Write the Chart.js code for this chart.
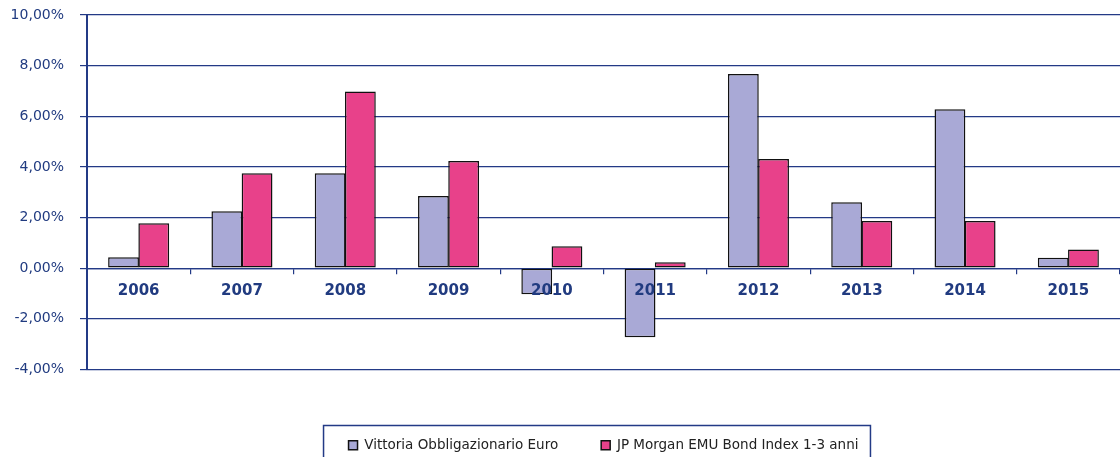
<!DOCTYPE html>
<html>
<head>
<meta charset="utf-8">
<script src="https://cdn.jsdelivr.net/npm/chart.js@4.4.1/dist/chart.umd.min.js"></script>
<style>
html,body{margin:0;padding:0;background:#fff;overflow:hidden;width:1120px;height:457px;}
#wrap{position:relative;width:1120px;height:462px;}
</style>
</head>
<body>
<div id="wrap"><canvas id="c"></canvas></div>
<script>
const categories = ['2006','2007','2008','2009','2010','2011','2012','2013','2014','2015'];
const vittoria = [0.43, 2.25, 3.75, 2.85, -1.03, -2.73, 7.67, 2.61, 6.28, 0.41];
const jpMorgan = [1.78, 3.75, 6.98, 4.23, 0.87, 0.24, 4.31, 1.86, 1.86, 0.74];
const yTicks = [-4, -2, 0, 2, 4, 6, 8, 10];
const seriesNames = ['Vittoria Obbligazionario Euro', 'JP Morgan EMU Bond Index 1-3 anni'];

const NAVY = '#233a86';
const TEXT = '#213b80';

const legendBox = {
  id: 'legendBox',
  afterDraw(chart) {
    const lg = chart.legend;
    if (!lg || !lg.legendHitBoxes || !lg.legendHitBoxes.length) return;
    const hb = lg.legendHitBoxes;
    let l = Infinity, r = -Infinity, t = Infinity;
    hb.forEach(b => { l = Math.min(l, b.left); r = Math.max(r, b.left + b.width); t = Math.min(t, b.top); });
    const ctx = chart.ctx;
    ctx.save();
    ctx.strokeStyle = NAVY;
    ctx.lineWidth = 1.5;
    ctx.strokeRect(l - 25, t - 13, (r - l) + 37, 60);
    ctx.restore();
  }
};

new Chart(document.getElementById('c'), {
  type: 'bar',
  data: {
    labels: categories,
    datasets: [
      { label: seriesNames[0], data: vittoria, backgroundColor: '#a9a9d6', borderColor: '#111', borderWidth: 1.5, borderSkipped: false },
      { label: seriesNames[1], data: jpMorgan, backgroundColor: '#e8418a', borderColor: '#111', borderWidth: 1.5, borderSkipped: false }
    ]
  },
  options: {
    responsive: true,
    maintainAspectRatio: false,
    animation: false,
    layout: { padding: { top: 15, right: 0, left: 0, bottom: 0 } },
    datasets: { bar: { categoryPercentage: 0.585, barPercentage: 1.02 } },
    scales: {
      x: {
        position: { y: 0 },
        offset: true,
        grid: { offset: true, drawOnChartArea: false, drawTicks: true, tickLength: 5, color: NAVY, lineWidth: 1.2 },
        border: { display: true, color: NAVY, width: 1.2 },
        ticks: { z: 1, color: TEXT, font: { family: 'DejaVu Sans', size: 15, weight: 'bold' }, padding: 9, maxRotation: 0 }
      },
      y: {
        min: -4, max: 10,
        afterFit(scale) { scale.width = 87; scale.paddingTop = 0; scale.paddingBottom = 0; },
        afterBuildTicks(scale) { scale.ticks = yTicks.map(v => ({ value: v })); },
        grid: { color: NAVY, lineWidth: 1.2, tickLength: 7 },
        border: { display: true, color: NAVY, width: 2 },
        ticks: {
          color: TEXT, padding: 16,
          font: { family: 'DejaVu Sans', size: 14 },
          callback: v => v.toFixed(2).replace('.', ',') + '%'
        }
      }
    },
    plugins: {
      legend: {
        position: 'bottom',
        fullSize: false,
        title: { display: true, text: ' ', font: { size: 10 }, padding: 7 },
        labels: {
          color: '#222', boxWidth: 9, boxHeight: 9, padding: 43,
          font: { family: 'DejaVu Sans', size: 13.5 },
          generateLabels(chart) {
            return chart.data.datasets.map((d, i) => ({
              text: d.label, fillStyle: d.backgroundColor, strokeStyle: '#111', lineWidth: 1.5,
              fontColor: '#222', datasetIndex: i, hidden: false
            }));
          }
        }
      },
      tooltip: { enabled: false }
    }
  },
  plugins: [legendBox]
});
</script>
</body>
</html>
